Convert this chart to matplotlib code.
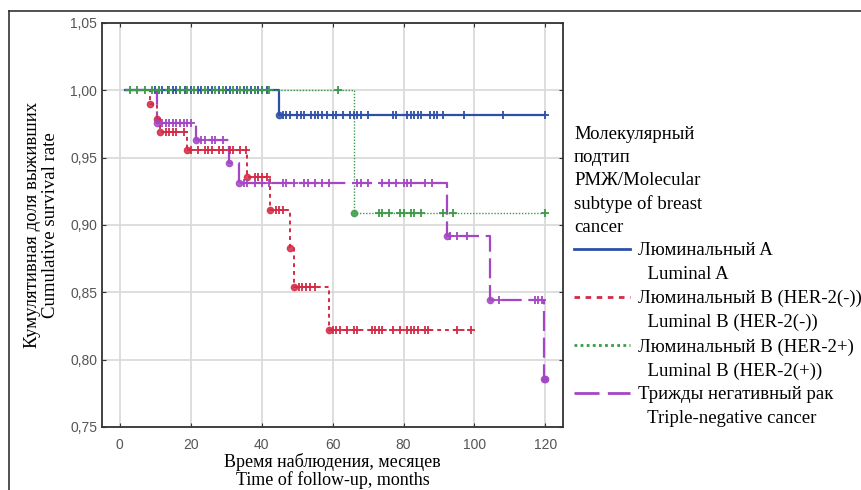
import numpy as np
import matplotlib
matplotlib.use('Agg')
import matplotlib.pyplot as plt
from matplotlib.lines import Line2D
from matplotlib.ticker import FuncFormatter

# Kaplan-Meier curves by molecular subtype

# Luminal A
lumA_t = [1.5, 45, 120]
lumA_s = [1.0, 0.982, 0.982]
lumA_cens = [10, 11, 12, 13.5, 15, 16, 17, 18.5, 20, 22, 23, 25, 26, 28, 30, 31, 33, 35,
             36, 37, 38, 39, 40, 41.5, 46, 47, 48, 50, 51, 52, 54, 55, 56, 57, 58.5, 60,
             61, 63, 65, 66, 67, 68, 70, 77, 78, 81, 82, 83, 84, 85, 87.5, 88.5, 89.5,
             91, 97, 108, 120]

# Luminal B HER-2(-)
lumBneg_t = [1.5, 8.5, 10.5, 11.3, 19, 36, 42.5, 48, 49, 59, 99]
lumBneg_s = [1.0, 0.990, 0.979, 0.969, 0.956, 0.936, 0.911, 0.883, 0.854, 0.822, 0.822]
lumBneg_cens = [13, 14, 15, 16, 18, 20, 22, 24, 25, 26, 28, 29, 31, 32, 34, 35.5, 38, 39,
                40, 41.5, 44, 45, 46, 50.5, 51.5, 52.5, 53.5, 55, 60, 61, 62, 64, 66, 67,
                71, 72, 73, 74, 77, 79, 81, 82, 83, 84, 86, 87, 95, 99]

# Luminal B HER-2(+)
lumBpos_t = [1.5, 66, 120]
lumBpos_s = [1.0, 0.909, 0.909]
lumBpos_cens = [3, 5, 7, 9, 11, 14, 17, 19, 21, 24, 27, 29, 32, 34, 36, 38, 40, 42, 61.5,
                73, 74, 76, 79, 80, 82, 83, 85, 91, 94, 120]

# Triple-negative
tn_t = [1.5, 10.4, 21.6, 30.8, 33.6, 92.3, 104.5, 119.6, 120]
tn_s = [1.0, 0.976, 0.963, 0.946, 0.931, 0.892, 0.844, 0.786, 0.786]
tn_cens = [12, 13, 14, 15, 16, 17, 18, 19, 20, 23, 24, 26, 27, 29, 35, 36, 38, 40, 42,
           46, 47, 49, 52, 53, 55, 57, 59, 67, 68, 70, 74, 76, 78, 80, 81, 82, 86, 88,
           93, 95, 98, 107, 117, 118, 119]

names_ru = ['Люминальный A', 'Люминальный B (HER-2(-))',
            'Люминальный B (HER-2+)', 'Трижды негативный рак']
names_en = ['  Luminal A', '  Luminal B (HER-2(-))',
            '  Luminal B (HER-2(+))', '  Triple-negative cancer']
colors = ['#2d4fa6', '#d42a45', '#3c9a48', '#a447c4']
styles = ['-', (0, (2, 2)), (0, (1, 1.2)), (0, (9, 3))]
widths = [1.6, 1.4, 1.0, 1.6]

groups = [(lumA_t, lumA_s, lumA_cens), (lumBneg_t, lumBneg_s, lumBneg_cens),
          (lumBpos_t, lumBpos_s, lumBpos_cens), (tn_t, tn_s, tn_cens)]

fig = plt.figure(figsize=(8.62, 4.90), dpi=100)
ax = fig.add_axes([0.1183, 0.1286, 0.535, 0.8245])

for (t, s, c), col, ls, lw in zip(groups, colors, styles, widths):
    ax.step(t, s, where='post', color=col, linestyle=ls, linewidth=lw, zorder=3)
    # survival level at each censored time
    idx = np.searchsorted(t, c, side='right') - 1
    cs = np.array(s)[idx]
    ax.plot(c, cs, linestyle='none', marker='+', markersize=6, mew=1.3, color=col, zorder=4)
    # event markers at the steps
    ax.plot(t[1:-1], s[1:-1], linestyle='none', marker='o', markersize=4.5,
            mfc=col, mec=col, zorder=4, alpha=0.85)
# final event of triple-negative at 120
ax.plot([120], [tn_s[-1]], linestyle='none', marker='o', markersize=4.5, color=colors[3])

ax.set_xlim(-5, 125)
ax.set_ylim(0.75, 1.05)
ax.set_xticks([0, 20, 40, 60, 80, 100, 120])
ax.set_yticks([0.75, 0.80, 0.85, 0.90, 0.95, 1.00, 1.05])
ax.yaxis.set_major_formatter(FuncFormatter(lambda v, p: f'{v:.2f}'.replace('.', ',')))
ax.grid(True, color='#d8d8d8', linewidth=1.2, zorder=0)
ax.set_axisbelow(True)
ax.tick_params(direction='in', length=3, top=True, right=True, labeltop=False,
               labelright=False, labelsize=10, labelcolor='#555555', color='#333333')
ax.tick_params(axis='x', pad=8)
for sp in ax.spines.values():
    sp.set_color('#333333')
    sp.set_linewidth(1.3)
for lab in ax.get_xticklabels() + ax.get_yticklabels():
    lab.set_family('Liberation Sans')

serif = 'Liberation Serif'
ax.set_ylabel('Кумулятивная доля выживших\nCumulative survival rate', family=serif,
              fontsize=13.5, labelpad=8, linespacing=1.1)
ax.set_xlabel('Время наблюдения, месяцев\nTime of follow-up, months', family=serif,
              fontsize=13, labelpad=1, linespacing=0.95)

# legend: russian line with the line sample, english line below without one
handles = []
texts = []
for col, ls, ru, en in zip(colors, styles, names_ru, names_en):
    handles.append(Line2D([0], [0], color=col, linestyle=ls, linewidth=2.0))
    texts.append(ru)
    handles.append(Line2D([0], [0], color='none'))
    texts.append(en)
leg = fig.legend(handles, texts, loc='upper left', bbox_to_anchor=(0.666, 0.743),
                 frameon=False, prop={'family': serif, 'size': 13.5},
                 title='Молекулярный\nподтип\nРМЖ/Molecular\nsubtype of breast\ncancer',
                 title_fontproperties={'family': serif, 'size': 13.5},
                 alignment='left', handlelength=3.0, handletextpad=0.4,
                 labelspacing=0.36, borderaxespad=0, borderpad=0)
leg.get_title().set_linespacing(1.45)

# outer frame of the figure
fig.add_artist(Line2D([0.0104, 0.0104], [0.0, 0.978], color='#333333', linewidth=1.2))
fig.add_artist(Line2D([0.0104, 1.0], [0.978, 0.978], color='#333333', linewidth=1.2))

fig.savefig('out.png', dpi=100)
